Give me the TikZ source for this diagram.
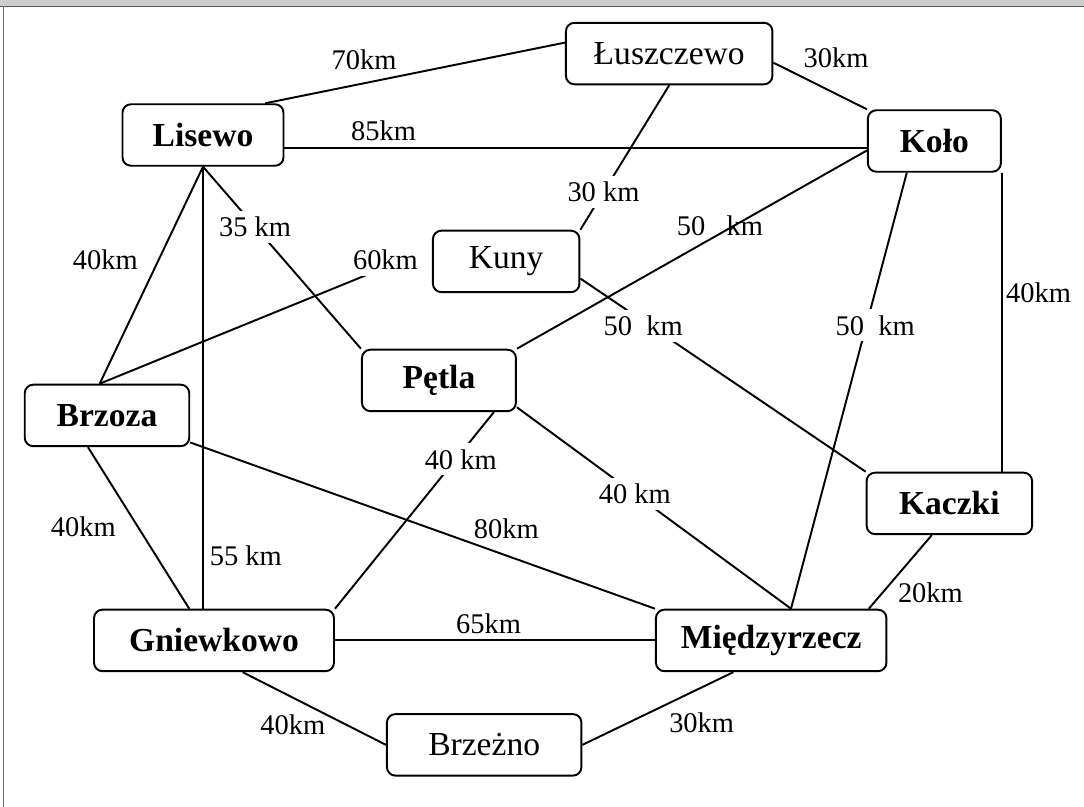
\documentclass[tikz,border=0pt]{standalone}
\usepackage{fontspec}
\setmainfont{Liberation Serif}
\usetikzlibrary{positioning}

\begin{document}
\begin{tikzpicture}[
    city/.style={
        rectangle, draw=black, line width=1.1pt,
        rounded corners=0.17cm, minimum height=1.23cm,
        inner sep=0pt, align=center, font=\fontsize{19.1}{22}\selectfont
    },
    citybold/.style={city, font=\fontsize{19.1}{22}\selectfont\bfseries},
    road/.style={line width=1.1pt, black},
    dist/.style={font=\fontsize{16.2}{19}\selectfont},
    distmask/.style={dist, fill=white}
]
\useasboundingbox (0,0) rectangle (21.68,16.14);

% ramka okna
\fill[black!20] (0,16.02) rectangle (21.68,16.14);
\draw[black!65, line width=0.75pt] (0,16.01) -- (21.68,16.01);
\draw[black!55, line width=0.8pt] (0.074,16.01) -- (0.074,0);

% miasta
\node[citybold, minimum width=3.22cm] (lisewo) at (4.06,13.44) {Lisewo};
\node[city, minimum width=4.13cm, above right=0.36cm and 5.61cm of lisewo] (luszczewo) {Łuszczewo};
\node[citybold, minimum width=2.66cm, below right=0.48cm and 1.87cm of luszczewo] (kolo) {Koło};
\node[city, minimum width=2.93cm, below right=1.26cm and 2.95cm of lisewo] (kuny) {Kuny};
\node[citybold, minimum width=3.08cm, below right=3.64cm and 1.53cm of lisewo] (petla) {Pętla};
\node[citybold, minimum width=3.29cm, below=4.34cm of lisewo, xshift=-1.92cm] (brzoza) {Brzoza};
\node[citybold, minimum width=4.8cm, below=8.84cm of lisewo, xshift=0.22cm] (gniewkowo) {Gniewkowo};
\node[citybold, minimum width=4.61cm, right=6.4cm of gniewkowo] (miedzyrzecz) {Międzyrzecz};
\node[city, minimum width=3.89cm, below right=0.82cm and 1.02cm of gniewkowo] (brzezno) {Brzeżno};
\node[citybold, minimum width=3.31cm, below=5.98cm of kolo, xshift=0.3cm] (kaczki) {Kaczki};

% drogi
\draw[road] (lisewo.27) -- node[dist, above=0.14cm, pos=0.33] {70km} (luszczewo.174);
\draw[road] (lisewo.-9) -- node[dist, above, pos=0.17] {85km} (lisewo.-9 -| kolo.west);
\draw[road] (luszczewo.-5) -- node[dist, above right, pos=0.25] {30km} (kolo.north west);
\draw[road] (luszczewo.south) -- node[distmask, pos=0.74] {30 km} (kuny.north east);
\draw[road] (lisewo.south) -- node[distmask, pos=0.33] {35 km} (petla.north west);
\draw[road] (lisewo.south) -- node[dist, left=0.28cm, pos=0.43] {40km} (brzoza.103);
\draw[road] (lisewo.south) -- node[dist, right, pos=0.88] {55 km} (lisewo.south |- gniewkowo.north);
\draw[road, shorten >=0.25cm] (brzoza.103) -- node[distmask, pos=0.86, yshift=0.15cm] {60km} (kuny.170);
\draw[road] (petla.north east) -- node[dist, pos=0.58, yshift=0.15cm] {50~~~km} (kolo.188);
\draw[road] (kolo.south east) -- node[dist, right=-0.05cm, pos=0.4] {40km} (kolo.south east |- kaczki.north);
\draw[road] (kuny.-13) -- node[distmask, pos=0.22, yshift=-0.1cm] {50~~km} (kaczki.north west);
\draw[road] (kolo.-131) -- node[distmask, pos=0.35, xshift=0.18cm] {50~~km} (miedzyrzecz.58);
\draw[road] (petla.-30) -- node[distmask, pos=0.24, xshift=0.1cm] {40 km} (gniewkowo.north east);
\draw[road] (petla.-19) -- node[distmask, pos=0.43] {40 km} (miedzyrzecz.58);
\draw[road] (brzoza.-18) -- node[dist, above=0.2cm, pos=0.68] {80km} (miedzyrzecz.north west);
\draw[road] (brzoza.-121) -- node[dist, left=0.3cm, pos=0.49] {40km} (gniewkowo.128);
\draw[road] (gniewkowo.east) -- node[dist, above, pos=0.48] {65km} (gniewkowo.east -| miedzyrzecz.west);
\draw[road] (kaczki.-119) -- node[dist, right=0.17cm, pos=0.78] {20km} (miedzyrzecz.18);
\draw[road] (gniewkowo.-48) -- node[dist, below=0.2cm, pos=0.35] {40km} (brzezno.west);
\draw[road] (brzezno.east) -- node[dist, below right, pos=0.53] {30km} (miedzyrzecz.-140);

\end{tikzpicture}
\end{document}
